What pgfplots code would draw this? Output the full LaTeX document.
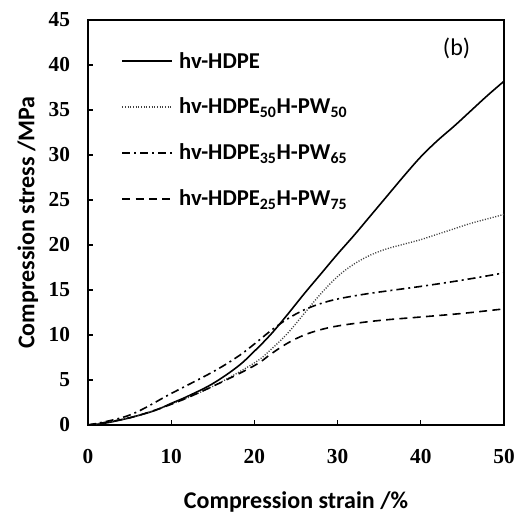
\documentclass[border=0pt]{standalone}
\usepackage{fontspec}
\setmainfont{Carlito}
\newfontfamily\numfont{Liberation Serif}
\usepackage{pgfplots}
\pgfplotsset{compat=1.18}
\usetikzlibrary{calc}
\begin{document}
\begin{tikzpicture}[x=0.75pt,y=0.75pt]
\begin{axis}[
  name=ax,
  scale only axis,
  width=312pt, height=303.75pt,
  xmin=0, xmax=50, ymin=0, ymax=45,
  xtick={0,10,...,50}, ytick={0,5,...,45},
  tick align=inside, xtick pos=bottom, ytick pos=left,
  major tick length=4pt,
  axis line style={line width=1.3pt},
  tick style={line width=1pt, black},
  /pgf/number format/assume math mode=true,
  tick label style={font=\fontsize{16}{18}\selectfont\numfont\bfseries},
  xticklabel style={yshift=-15pt},
  yticklabel style={xshift=-10pt},
  xlabel={Compression strain /\%},
  ylabel={Compression stress /MPa},
  label style={font=\fontsize{18}{20}\selectfont\bfseries},
  xlabel style={yshift=-14pt},
  ylabel style={yshift=1pt},
  legend style={at={(0.08,0.928)}, anchor=north west, draw=none, fill=none,
    font=\fontsize{17}{19}\selectfont\bfseries, row sep=17pt,
    inner sep=0pt, cells={anchor=west}, nodes={inner xsep=5pt}},
  legend image code/.code={\draw[#1] (0pt,0pt) -- (37pt,0pt);},
]
\addplot[black, line width=1.2pt, smooth, tension=0.6] coordinates {
(0,0) (2,0.2) (5,0.8) (8,1.6) (10,2.4) (12,3.2) (15,4.6) (18,6.5) (20,8.2)
(22,10.1) (24,12.3) (26,14.6) (28,16.8) (30,19.0) (32,21.1) (34,23.3)
(36,25.5) (38,27.7) (40,29.8) (42,31.6) (44,33.2) (46,34.9) (48,36.6) (50,38.2)
};
\addlegendentry{hv-HDPE}
\addplot[black!75, line width=1pt, dash pattern=on 0.8pt off 1.2pt, smooth, tension=0.6] coordinates {
(0,0) (5,0.8) (10,2.3) (15,4.3) (20,6.9) (22,8.4) (24,10.2) (26,12.4)
(28,14.6) (30,16.5) (32,17.9) (34,18.9) (36,19.6) (38,20.1) (40,20.6)
(42,21.2) (44,21.8) (46,22.4) (48,22.9) (50,23.4)
};
\addlegendentry{hv-HDPE\textsubscript{50}H-PW\textsubscript{50}}
\addplot[black, line width=1.2pt, dash pattern=on 6pt off 3pt on 1.5pt off 3pt, smooth, tension=0.6] coordinates {
(0,0) (5,1.1) (10,3.5) (15,5.9) (18,7.6) (20,9.0) (22,10.5) (24,11.8)
(26,12.8) (28,13.5) (30,14.0) (33,14.5) (36,14.9) (40,15.4) (45,16.1) (50,16.9)
};
\addlegendentry{hv-HDPE\textsubscript{35}H-PW\textsubscript{65}}
\addplot[black, line width=1.2pt, dash pattern=on 6pt off 4pt, smooth, tension=0.6] coordinates {
(0,0) (5,0.8) (10,2.3) (15,4.3) (20,6.6) (22,7.9) (24,9.1) (26,10.0)
(28,10.6) (30,11.0) (33,11.4) (36,11.7) (40,12.0) (45,12.4) (50,12.9)
};
\addlegendentry{hv-HDPE\textsubscript{25}H-PW\textsubscript{75}}
\node[font=\fontsize{18}{20}\selectfont] at (axis cs:44.3,41.8) {(b)};
\end{axis}
\useasboundingbox ($(ax.south west)+(-66pt,-71.25pt)$) rectangle ($(ax.north east)+(9.75pt,15pt)$);
\end{tikzpicture}
\end{document}
